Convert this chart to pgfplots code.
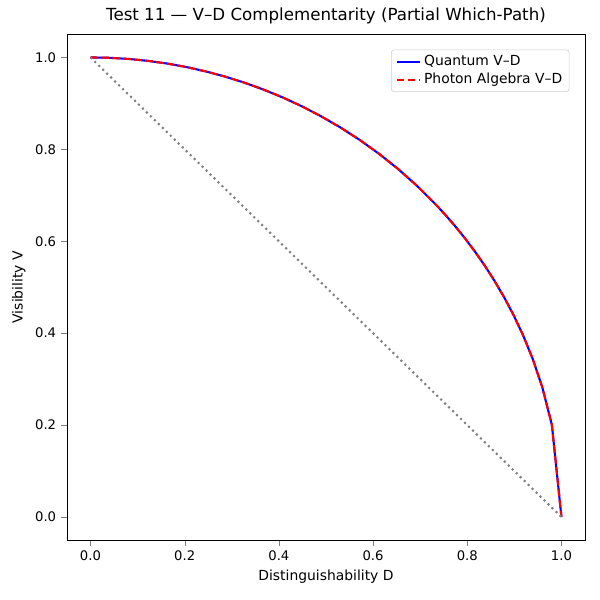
\documentclass[border=0pt]{standalone}
\usepackage{pgfplots}
\pgfplotsset{compat=1.18}
\usepackage{fontspec}
\setmainfont{DejaVu Sans}
\begin{document}
\begin{tikzpicture}
\path[use as bounding box] (0,0) rectangle (432pt,432pt);
\begin{axis}[at={(48.2pt,43.2pt)},anchor=south west,scale only axis,
width=373pt,height=364pt,
xmin=-0.05,xmax=1.05,ymin=-0.05,ymax=1.05,
xtick={0,0.2,0.4,0.6,0.8,1.0},ytick={0,0.2,0.4,0.6,0.8,1.0},
xticklabel style={/pgf/number format/.cd,fixed,fixed zerofill,precision=1},
yticklabel style={/pgf/number format/.cd,fixed,fixed zerofill,precision=1},
/pgf/number format/assume math mode=true,
tick label style={font=\fontsize{9.5}{12}\selectfont},
label style={font=\fontsize{10}{12}\selectfont},
xlabel={Distinguishability D},ylabel={Visibility V},
title={Test 11 — V–D Complementarity (Partial Which-Path)},
title style={font=\fontsize{12}{14}\selectfont,yshift=-2pt},
tick align=outside,xtick pos=bottom,ytick pos=left,
legend pos=north east,
legend style={font=\fontsize{10}{12}\selectfont,draw=black!20,rounded corners=2pt},
legend cell align=left]
\addplot[blue,line width=1.5pt] coordinates {(0,1)(0.0408,0.99917)(0.0816,0.99666)(0.1224,0.99247)(0.1633,0.98658)(0.2041,0.97895)(0.2449,0.96955)(0.2857,0.95832)(0.3265,0.94519)(0.3673,0.93008)(0.4082,0.91291)(0.4490,0.89355)(0.4898,0.87184)(0.5306,0.84762)(0.5714,0.82065)(0.6122,0.79067)(0.6531,0.75730)(0.6939,0.72009)(0.7347,0.67839)(0.7551,0.65561)(0.7755,0.63133)(0.7959,0.60541)(0.8163,0.57759)(0.8367,0.54761)(0.8571,0.51508)(0.8776,0.47948)(0.8980,0.44008)(0.9184,0.39573)(0.9388,0.34453)(0.9592,0.28279)(0.9796,0.20100)(1,0)};
\addlegendentry{Quantum V–D}
\addplot[red,line width=1.5pt,dash pattern=on 5.5pt off 2.4pt] coordinates {(0,1)(0.0408,0.99917)(0.0816,0.99666)(0.1224,0.99247)(0.1633,0.98658)(0.2041,0.97895)(0.2449,0.96955)(0.2857,0.95832)(0.3265,0.94519)(0.3673,0.93008)(0.4082,0.91291)(0.4490,0.89355)(0.4898,0.87184)(0.5306,0.84762)(0.5714,0.82065)(0.6122,0.79067)(0.6531,0.75730)(0.6939,0.72009)(0.7347,0.67839)(0.7551,0.65561)(0.7755,0.63133)(0.7959,0.60541)(0.8163,0.57759)(0.8367,0.54761)(0.8571,0.51508)(0.8776,0.47948)(0.8980,0.44008)(0.9184,0.39573)(0.9388,0.34453)(0.9592,0.28279)(0.9796,0.20100)(1,0)};
\addlegendentry{Photon Algebra V–D}
\addplot[gray,line width=1.5pt,dash pattern=on 1.5pt off 2.5pt,forget plot] coordinates {(0,1)(1,0)};
\end{axis}
\end{tikzpicture}
\end{document}
